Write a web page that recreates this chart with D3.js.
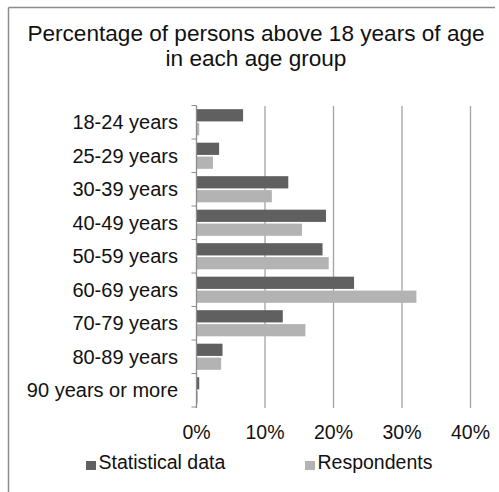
<!DOCTYPE html>
<html>
<head>
<meta charset="utf-8">
<script src="https://cdn.jsdelivr.net/npm/d3@7"></script>
<style>
  html, body { margin: 0; padding: 0; background: #fff; }
  svg { display: block; font-family: "Liberation Sans", Arial, sans-serif; }
</style>
</head>
<body>
<svg id="chart" width="499" height="492"></svg>
<script>
// Age groups, top to bottom
const categories = ["18-24 years", "25-29 years", "30-39 years", "40-49 years", "50-59 years",
                    "60-69 years", "70-79 years", "80-89 years", "90 years or more"];
const seriesNames = ["Statistical data", "Respondents"];
// Share of persons (%) in each age group
const statisticalData = [6.8, 3.3, 13.4, 18.9, 18.4, 23.0, 12.6, 3.8, 0.4];
const respondents     = [0.4, 2.4, 11.0, 15.4, 19.3, 32.1, 15.9, 3.6, 0.2];
const xTicks = [0, 10, 20, 30, 40];
const titleLines = ["Percentage of persons above 18 years of age", "in each age group"];

const colors = { "Statistical data": "#606060", "Respondents": "#b3b3b3" };

const svg = d3.select("#chart");
const rows = categories.map((c, i) => ({
  category: c,
  values: [
    { series: seriesNames[0], value: statisticalData[i] },
    { series: seriesNames[1], value: respondents[i] }
  ]
}));

// Outer chart frame
svg.append("line").attr("x1", 8.5).attr("x2", 8.5).attr("y1", 7.5).attr("y2", 492)
  .attr("stroke", "#8c8c8c").attr("stroke-width", 1.5);
svg.append("line").attr("x1", 8.5).attr("x2", 495).attr("y1", 7.5).attr("y2", 7.5)
  .attr("stroke", "#8c8c8c").attr("stroke-width", 1.5);

// Title
svg.append("text")
  .attr("x", 256).attr("y", 41)
  .attr("text-anchor", "middle")
  .attr("font-size", 22.6).attr("fill", "#111")
  .selectAll("tspan").data(titleLines).join("tspan")
  .attr("x", 256).attr("dy", (d, i) => i === 0 ? 0 : 24.5)
  .text(d => d);

const x = d3.scaleLinear().domain([0, 40]).range([196.5, 470.5]);
const y = d3.scaleBand().domain(categories).range([105.5, 407])
  .paddingInner(0.22).paddingOuter(0.11);
const ySeries = d3.scaleBand().domain(seriesNames).range([0, y.bandwidth()]).paddingInner(0.12);

// Vertical gridlines
svg.append("g").selectAll("line").data(xTicks.filter(t => t > 0)).join("line")
  .attr("x1", d => x(d)).attr("x2", d => x(d))
  .attr("y1", 106).attr("y2", 408)
  .attr("stroke", "#a3a3a3").attr("stroke-width", 1.3);

// Bars
const groups = svg.append("g").selectAll("g").data(rows).join("g")
  .attr("transform", d => `translate(0,${y(d.category)})`);
groups.selectAll("rect").data(d => d.values).join("rect")
  .attr("x", x(0))
  .attr("y", d => ySeries(d.series))
  .attr("width", d => x(d.value) - x(0))
  .attr("height", ySeries.bandwidth())
  .attr("fill", d => colors[d.series]);

// Category axis with ticks between groups
const step = y.step();
const boundaries = d3.range(categories.length + 1).map(i => 105.5 + i * step);
svg.append("g").selectAll("line").data(boundaries).join("line")
  .attr("x1", x(0) - 5).attr("x2", x(0))
  .attr("y1", d => d).attr("y2", d => d)
  .attr("stroke", "#8c8c8c").attr("stroke-width", 1);
svg.append("line").attr("x1", x(0)).attr("x2", x(0)).attr("y1", 105.5).attr("y2", 408)
  .attr("stroke", "#8c8c8c").attr("stroke-width", 1.3);

svg.append("g").selectAll("text").data(categories).join("text")
  .attr("x", 178)
  .attr("y", d => y(d) + y.bandwidth() / 2)
  .attr("dy", "0.35em")
  .attr("text-anchor", "end")
  .attr("font-size", 20).attr("fill", "#111")
  .text(d => d);

// Value axis labels
svg.append("g").selectAll("text").data(xTicks).join("text")
  .attr("x", d => x(d)).attr("y", 439)
  .attr("text-anchor", "middle")
  .attr("font-size", 19.5).attr("fill", "#111")
  .text(d => d + "%");

// Legend
const legendPos = [86, 305];
const legend = svg.append("g").selectAll("g").data(seriesNames).join("g")
  .attr("transform", (d, i) => `translate(${legendPos[i]},0)`);
legend.append("rect").attr("x", 0).attr("y", 461).attr("width", 10).attr("height", 9)
  .attr("fill", d => colors[d]);
legend.append("text").attr("x", 12.5).attr("y", 469)
  .attr("font-size", 19.5).attr("fill", "#111")
  .text(d => d);
</script>
</body>
</html>
